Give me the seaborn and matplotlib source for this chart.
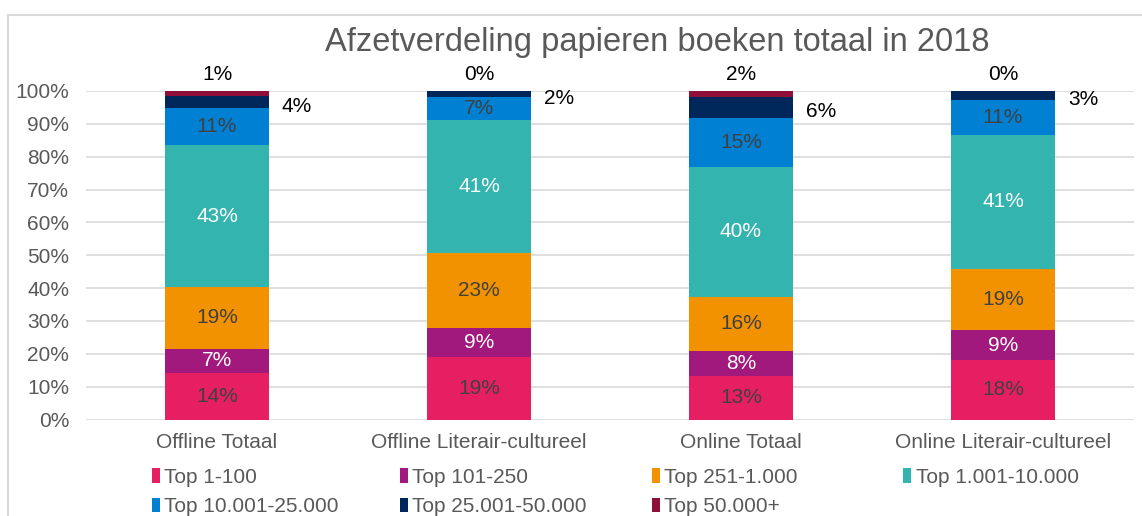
import matplotlib
matplotlib.use("Agg")
import matplotlib.pyplot as plt
import seaborn as sns
import numpy as np
import pandas as pd
from matplotlib.patches import Patch, Rectangle

categories = ["Offline Totaal", "Offline Literair-cultureel", "Online Totaal", "Online Literair-cultureel"]
series_names = ["Top 1-100", "Top 101-250", "Top 251-1.000", "Top 1.001-10.000",
                "Top 10.001-25.000", "Top 25.001-50.000", "Top 50.000+"]
top_1_100 = [14.3, 19.1, 13.1, 18.2]
top_101_250 = [7.3, 8.9, 7.9, 8.9]
top_251_1000 = [18.6, 22.7, 16.3, 18.8]
top_1001_10000 = [43.4, 40.6, 39.7, 40.7]
top_10001_25000 = [11.2, 7.0, 14.9, 10.7]
top_25001_50000 = [3.7, 1.6, 6.3, 2.7]
top_50000_plus = [1.4, 0.2, 1.9, 0.1]
yticks = [0, 10, 20, 30, 40, 50, 60, 70, 80, 90, 100]
title = "Afzetverdeling papieren boeken totaal in 2018"

colors = ["#E61F63", "#A1197C", "#F39200", "#33B4AF", "#0080D3", "#00275A", "#8E1039"]
label_colors = ["#404040", "#FFFFFF", "#404040", "#FFFFFF", "#404040", None, None]

series = [top_1_100, top_101_250, top_251_1000, top_1001_10000,
          top_10001_25000, top_25001_50000, top_50000_plus]

sns.set_style("white")
plt.rcParams["font.family"] = ["Liberation Sans", "DejaVu Sans"]

FS = 15

fig = plt.figure(figsize=(11.42, 5.16), dpi=100)
ax = fig.add_axes([86/1142, 1 - 419.5/516, 1048/1142, 328.5/516])

arr = np.array(series)
cum = np.cumsum(arr, axis=0)

# draw cumulative bars from top down so lower series overlay upper
for i in range(len(series) - 1, -1, -1):
    df = pd.DataFrame({"cat": categories, "val": cum[i]})
    sns.barplot(data=df, x="cat", y="val", order=categories, color=colors[i],
                width=0.4, saturation=1, ax=ax, linewidth=0, zorder=3)

ax.set_ylim(0, 100)
ax.set_xlim(-0.5, 3.5)
ax.set_yticks(yticks)
ax.set_yticklabels([f"{t}%" for t in yticks])
ax.yaxis.grid(True, color="#D9D9D9", linewidth=1.2, zorder=0)
ax.set_axisbelow(True)
for s in ax.spines.values():
    s.set_visible(False)
ax.set_xlabel("")
ax.set_ylabel("")
ax.tick_params(axis="both", length=0, labelsize=FS, colors="#595959")
ax.tick_params(axis="y", pad=12)
ax.tick_params(axis="x", pad=10)

# data labels
for j in range(len(categories)):
    for i in range(len(series)):
        v = arr[i, j]
        mid = cum[i, j] - v / 2
        txt = f"{v:.0f}%"
        if i <= 4:
            ax.text(j, mid, txt, ha="center", va="center", fontsize=FS,
                    color=label_colors[i], zorder=5)
        elif i == 5:
            ax.annotate(txt, (j + 0.2, mid), xytext=(9, -3), textcoords="offset points",
                        ha="left", va="center", fontsize=FS, color="black",
                        annotation_clip=False)
        else:
            ax.annotate(txt, (j, 100), xytext=(0, 12), textcoords="offset points",
                        ha="center", va="center", fontsize=FS, color="black",
                        annotation_clip=False)

fig.text(657/1142, 1 - 42/516, title, ha="center", va="center", fontsize=23.5, color="#595959")

# legend: four columns placed at fixed positions
col_x = [152, 400, 652, 903]
for c in range(4):
    idx = [k for k in (c, c + 4) if k < len(series_names)]
    handles = [Patch(facecolor=colors[k], edgecolor="none") for k in idx]
    labels = [series_names[k] for k in idx]
    leg = fig.legend(handles, labels, loc="upper left",
                     bbox_to_anchor=(col_x[c]/1142, 1 - 468/516),
                     frameon=False, fontsize=FS, handlelength=0.4, handleheight=0.7,
                     handletextpad=0.2, labelspacing=0.5, borderaxespad=0, borderpad=0)
    for t in leg.get_texts():
        t.set_color("#595959")

fig.patches.append(Rectangle((8/1142, -0.1), 1.2, 1.1 - 15/516, transform=fig.transFigure,
                             fill=False, edgecolor="#D9D9D9", linewidth=1.5))

fig.savefig("out.png", dpi=100)
